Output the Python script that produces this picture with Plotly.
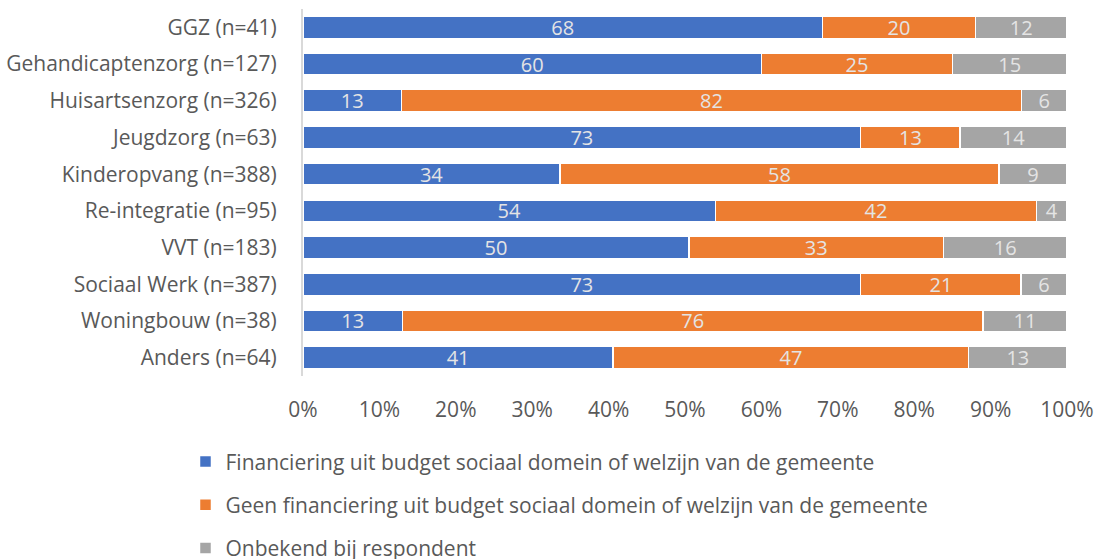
import plotly.graph_objects as go

# categorieen en percentages
categories = ["GGZ (n=41)", "Gehandicaptenzorg (n=127)", "Huisartsenzorg (n=326)",
              "Jeugdzorg (n=63)", "Kinderopvang (n=388)", "Re-integratie (n=95)",
              "VVT (n=183)", "Sociaal Werk (n=387)", "Woningbouw (n=38)", "Anders (n=64)"]
financiering = [68, 60, 13, 73, 34, 54, 50, 73, 13, 41]
geen_financiering = [20, 25, 82, 13, 58, 42, 33, 21, 76, 47]
onbekend = [12, 15, 6, 14, 9, 4, 16, 6, 11, 13]

series_names = ["Financiering uit budget sociaal domein of welzijn van de gemeente",
                "Geen financiering uit budget sociaal domein of welzijn van de gemeente",
                "Onbekend bij respondent"]
colors = ["#4472C4", "#ED7D31", "#A5A5A5"]

FONT = "'Open Sans', sans-serif"

fig = go.Figure()
for i, (name, vals, col) in enumerate(zip(series_names,
                                          [financiering, geen_financiering, onbekend],
                                          colors)):
    fig.add_trace(go.Bar(
        y=categories, x=vals, name=name, orientation="h",
        marker=dict(color=col, line=dict(color="white", width=1.5)),
        text=vals, texttemplate="%{text}", textposition="inside",
        insidetextanchor="middle", textangle=0, constraintext="none",
        textfont=dict(family=FONT, size=20, color="#E4E4E4"),
        legendgroup=str(i),
    ))

# figuur iets hoger dan het venster zodat de legenda de plot niet samendrukt
fig.update_layout(
    barmode="stack", barnorm="percent", bargap=0.4,
    width=1098, height=580,
    margin=dict(l=303, r=31, t=9, b=204),
    plot_bgcolor="white", paper_bgcolor="white",
    font=dict(family=FONT, size=20, color="#595959"),
    showlegend=True,
    legend=dict(orientation="v", x=-0.1538, xanchor="left", y=-0.178, yanchor="top",
                font=dict(size=21, color="#595959"), tracegroupgap=13,
                itemwidth=30),
    xaxis=dict(range=[0, 100], dtick=10, ticksuffix="%", showgrid=False,
               zeroline=False, showline=False, ticklabelstandoff=19,
               automargin=False, tickfont=dict(size=21, color="#595959")),
    yaxis=dict(autorange="reversed", showline=True, linecolor="#D9D9D9", linewidth=2,
               showgrid=False, ticks="", ticklabelstandoff=20, automargin=False,
               tickfont=dict(size=21, color="#595959")),
)

# body-marge weg en geen scrollbalken
fig.write_html("out.html", config={"displayModeBar": False},
               post_script="document.body.style.margin='0';"
                           "document.body.style.overflow='hidden';")
